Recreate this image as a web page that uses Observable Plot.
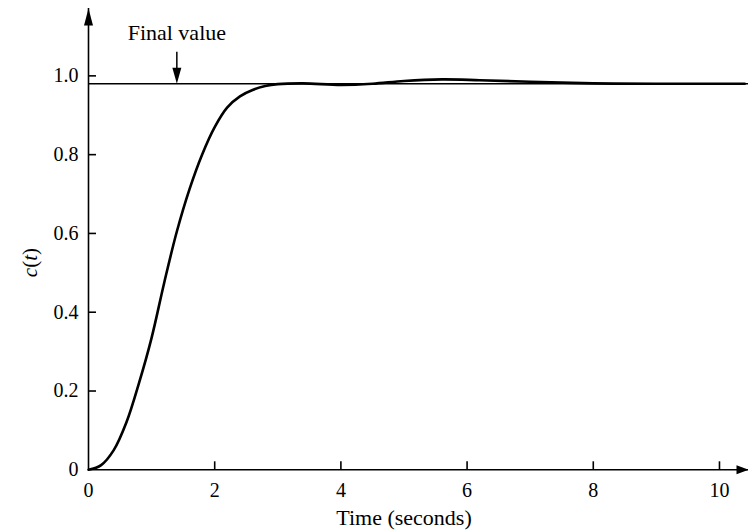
<!DOCTYPE html>
<html><head><meta charset="utf-8">
<script src="https://cdn.jsdelivr.net/npm/d3@7"></script>
<script src="https://cdn.jsdelivr.net/npm/@observablehq/plot@0.6"></script>
<style>body{margin:0;background:#fff}</style>
</head><body><div id="chart"></div>
<script>
// Step response
const time     = [0, 0.2, 0.4, 0.6, 0.8, 1.0, 1.2, 1.4, 1.6, 1.8, 2.0, 2.2, 2.4, 2.6, 2.8, 3.0, 3.4, 4.0, 4.5, 5.0, 5.6, 6.2, 7.0, 8.0, 9.0, 10.4];
const response = [0, 0.012, 0.05, 0.12, 0.22, 0.335, 0.475, 0.605, 0.712, 0.80, 0.87, 0.92, 0.948, 0.964, 0.974, 0.979, 0.981, 0.977, 0.980, 0.987, 0.991, 0.989, 0.985, 0.981, 0.980, 0.980];
const finalValue = 0.98;
const xTicks = [0, 2, 4, 6, 8, 10];
const yTicks = [0, 0.2, 0.4, 0.6, 0.8, 1.0];
const yTickLabels = ["0", "0.2", "0.4", "0.6", "0.8", "1.0"];
const xLabel = "Time (seconds)";
const yLabel = "c(t)";
const annotation = "Final value";
const annotationTime = 1.4;

const data = time.map((t, i) => ({t, c: response[i]}));
const xMax = 10.46, yMax = 1.171;

function head(len, half) {
  return {draw(ctx) { ctx.moveTo(0, 0); ctx.lineTo(-half, len); ctx.lineTo(half, len); ctx.closePath(); }};
}
const font = "Liberation Serif, Times New Roman, serif";
const W = 748, H = 531, mL = 88, mR = 0, mT = 8, mB = 61.7, tickLen = 8;

const chart = Plot.plot({
  width: W, height: H,
  marginLeft: mL, marginRight: mR, marginTop: mT, marginBottom: mB,
  x: {domain: [0, xMax]},
  y: {domain: [0, yMax]},
  style: {fontFamily: font, fontSize: "20px", color: "#000", background: "#fff", overflow: "visible"},
  marks: [
    Plot.ruleY([finalValue], {stroke: "#000", strokeWidth: 1.5}),
    Plot.ruleY([0], {stroke: "#000", strokeWidth: 1.6}),
    Plot.ruleX([0], {stroke: "#000", strokeWidth: 1.6}),
    Plot.axisX(xTicks, {tickSize: 0, tickPadding: 13, label: null, fontSize: 20, tickFormat: d => String(d)}),
    Plot.tickX(xTicks.slice(1), {x: d => d, insetTop: (H - mT - mB) - tickLen, stroke: "#000", strokeWidth: 1.6}),
    Plot.axisY(yTicks, {tickSize: 0, tickPadding: 10, label: null, fontSize: 20, tickFormat: d => yTickLabels[yTicks.indexOf(d)]}),
    Plot.tickY(yTicks.slice(1), {y: d => d, insetRight: (W - mL - mR) - tickLen, stroke: "#000", strokeWidth: 1.6}),
    Plot.line(data, {x: "t", y: "c", curve: "catmull-rom", stroke: "#000", strokeWidth: 2.6}),
    Plot.dot([{x: 0, y: yMax}], {x: "x", y: "y", symbol: head(17, 4.5), fill: "#000", stroke: "none", r: 5}),
    Plot.dot([{x: xMax, y: 0}], {x: "x", y: "y", symbol: head(12, 4.5), rotate: 90, fill: "#000", stroke: "none", r: 5}),
    Plot.ruleX([annotationTime], {y1: 1.06, y2: 1.015, stroke: "#000", strokeWidth: 1.5}),
    Plot.dot([{x: annotationTime, y: finalValue}], {x: "x", y: "y", symbol: head(16, 4.5), rotate: 180, fill: "#000", stroke: "none", r: 5}),
    Plot.text([annotation], {x: annotationTime, y: 1.108, text: d => d, fontSize: 22, fill: "#000"}),
    Plot.text([xLabel], {x: 5.0, y: -0.121, text: d => d, fontSize: 22, fill: "#000"}),
    Plot.text([yLabel], {x: -0.92, y: 0.526, text: d => d, rotate: -90, fontSize: 21, fill: "#000"})
  ]
});
document.getElementById("chart").appendChild(chart);

// italicise the variables in c(t)
d3.select(chart).selectAll("text").filter(function() { return this.textContent === yLabel; }).each(function() {
  const el = d3.select(this);
  el.text(null);
  [["c", true], ["(", false], ["t", true], [")", false]].forEach(([s, it]) => {
    el.append("tspan").attr("font-style", it ? "italic" : "normal").text(s);
  });
});
</script>
</body></html>
